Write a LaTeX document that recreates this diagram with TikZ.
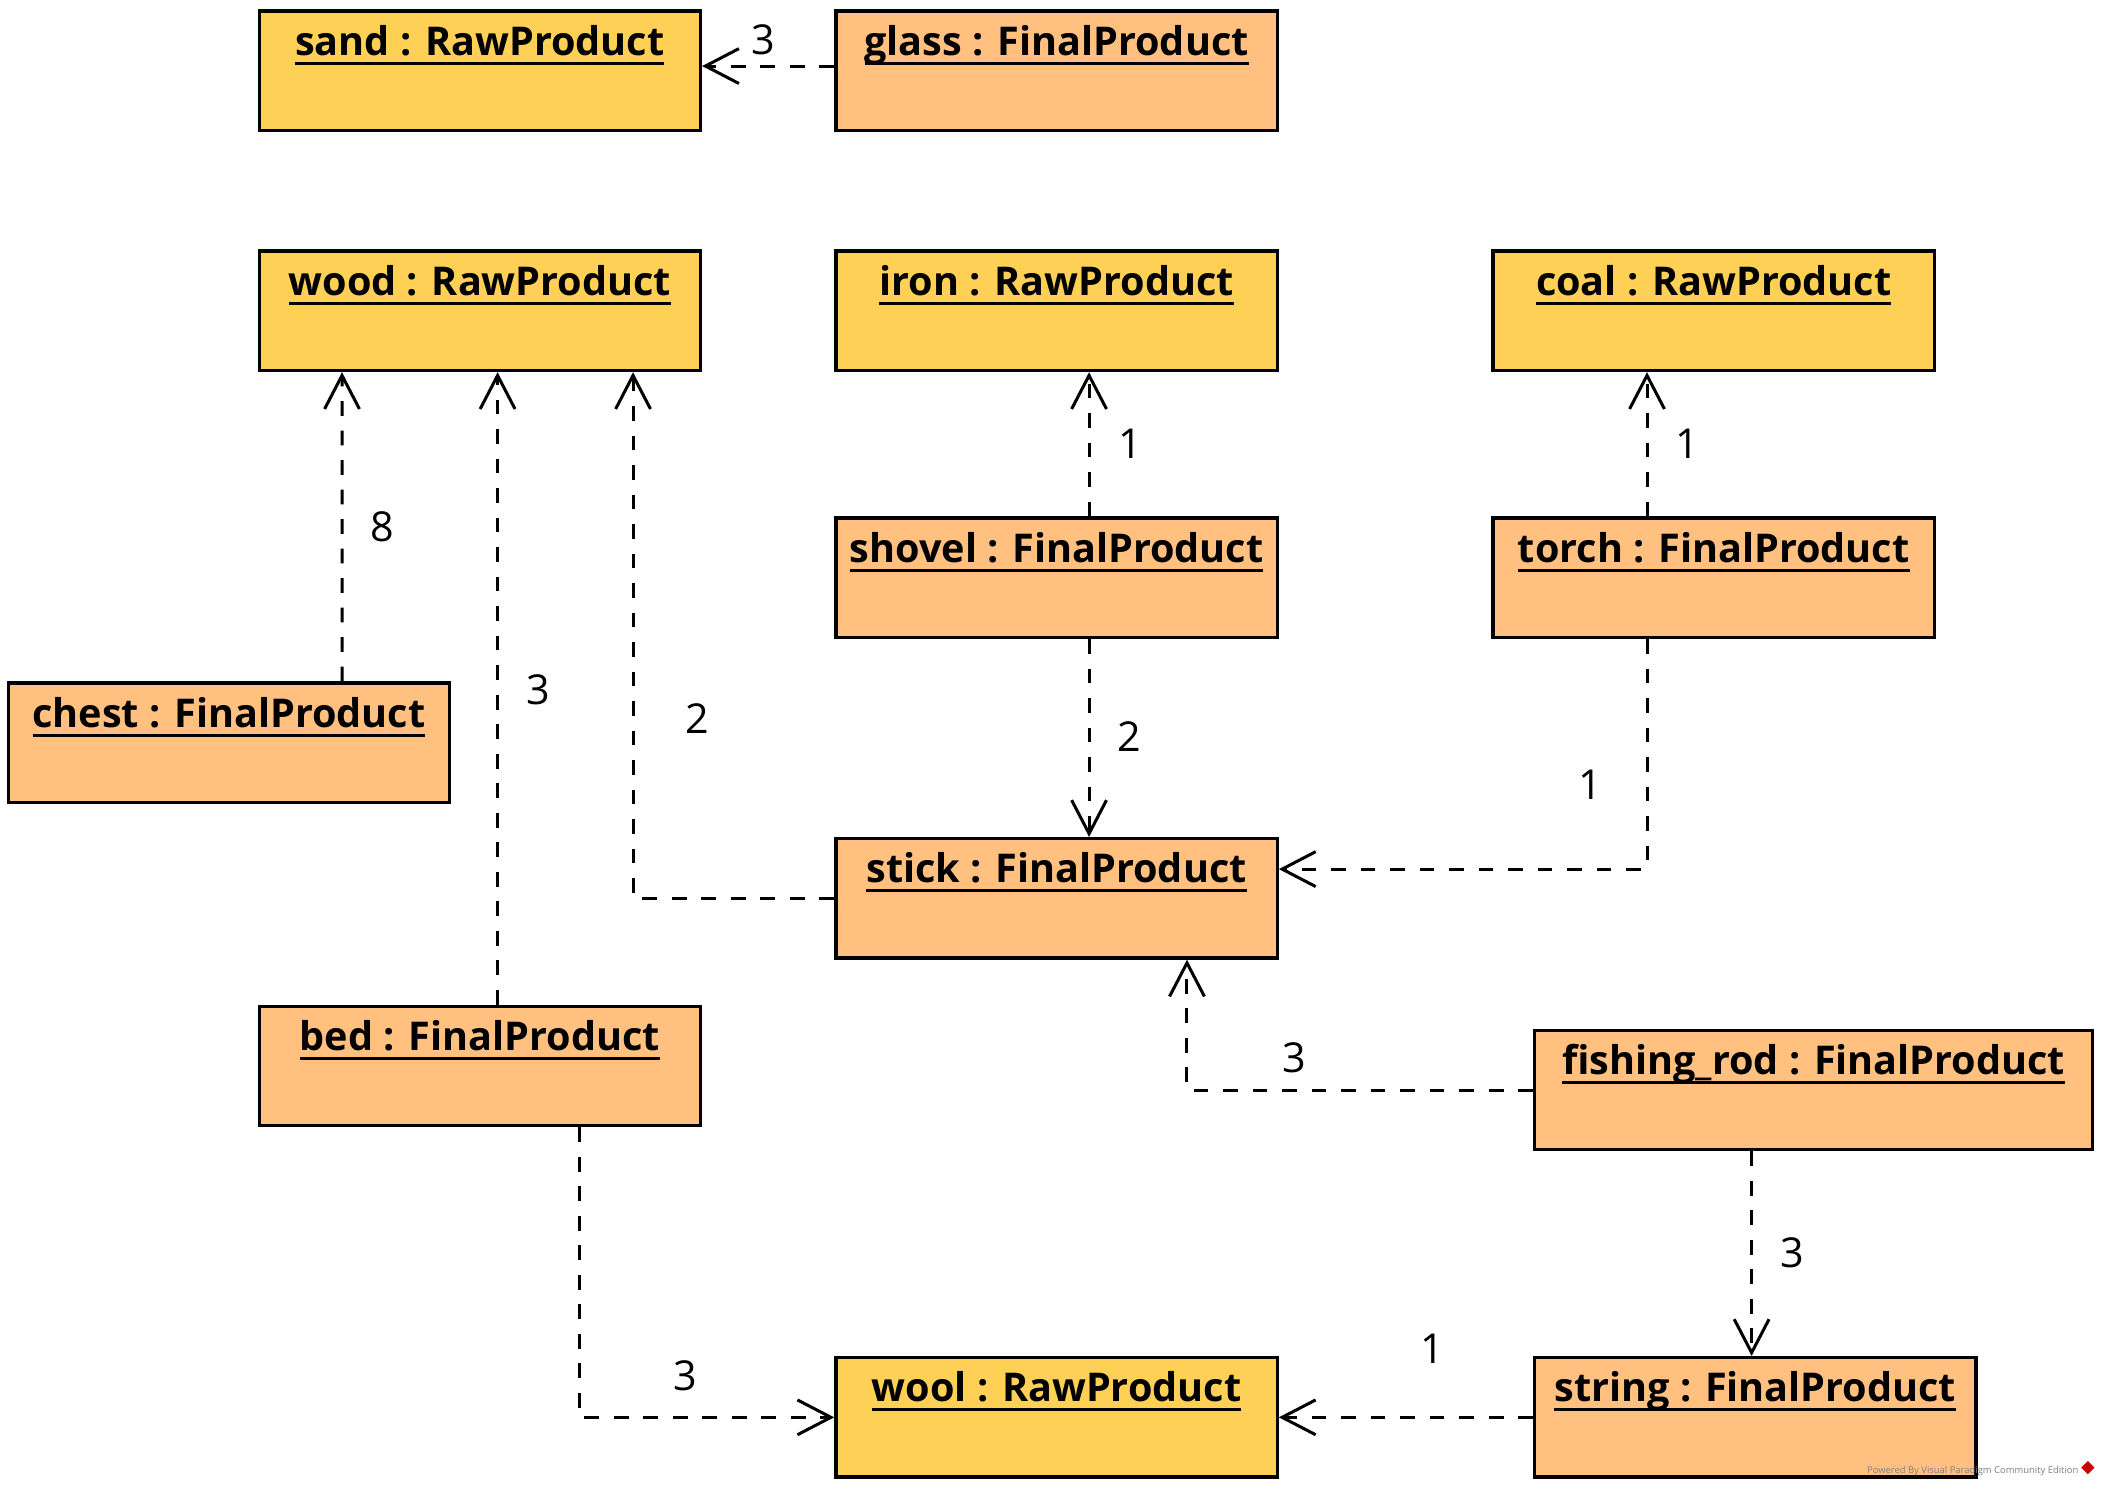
\documentclass[tikz,border=0pt]{standalone}
\usepackage{fontspec}
\setmainfont{Open Sans}
\usepackage{xcolor}
\usepackage{tikz}
\usetikzlibrary{arrows.meta,positioning}
\definecolor{rawfill}{RGB}{254,208,86}
\definecolor{finalfill}{RGB}{255,192,128}
\newcommand{\ulname}[1]{\setbox0=\hbox{#1}\rlap{\rule[-0.14cm]{\wd0}{0.045cm}}\box0}

\begin{document}
\begin{tikzpicture}[
  obj/.style={draw, line width=0.05cm, minimum width=6.58cm, inner xsep=0pt, inner ysep=0.2cm,
    text height=0.46cm, text depth=0.92cm, font=\fontsize{16.8}{19}\selectfont\bfseries},
  raw/.style={obj, fill=rawfill},
  final/.style={obj, fill=finalfill},
  dep/.style={-{Straight Barb[length=0.5cm, width=0.52cm]}, dash pattern=on 0.22cm off 0.22cm, line width=0.045cm},
  num/.style={font=\fontsize{17.5}{20}\selectfont}
]
\useasboundingbox (0,0) rectangle (31.36,-22.19);
\coordinate(O1) at (0,0);

\node[below right=0.14cm and 3.84cm of O1, raw](sand) {\ulname{sand : RawProduct}};
\node[below right=0.14cm and 12.44cm of O1, final](glass) {\ulname{glass : FinalProduct}};

\node[below right=3.72cm and 3.84cm of O1, raw](wood) {\ulname{wood : RawProduct}};
\node[below right=3.72cm and 12.44cm of O1, raw](iron) {\ulname{iron : RawProduct}};
\node[below right=3.72cm and 22.24cm of O1, raw](coal) {\ulname{coal : RawProduct}};

\node[below right=7.70cm and 12.44cm of O1, final](shovel) {\ulname{shovel : FinalProduct}};
\node[below right=7.70cm and 22.24cm of O1, final](torch) {\ulname{torch : FinalProduct}};
\node[below right=10.16cm and 0.10cm of O1, final](chest) {\ulname{chest : FinalProduct}};

\node[below right=12.48cm and 12.44cm of O1, final](stick) {\ulname{stick : FinalProduct}};
\node[below right=14.98cm and 3.84cm of O1, final](bed) {\ulname{bed : FinalProduct}};
\node[below right=15.34cm and 22.86cm of O1, final, minimum width=8.32cm](rod) {\ulname{fishing\_rod : FinalProduct}};

\node[below right=20.22cm and 12.44cm of O1, raw](wool) {\ulname{wool : RawProduct}};
\node[below right=20.22cm and 22.86cm of O1, final](string) {\ulname{string : FinalProduct}};

% dependencies
\draw[dep] ([yshift=0.07cm]glass.west) -- ([yshift=0.07cm]sand.east);
\draw[dep] ([xshift=5cm]chest.north west) -- ([xshift=1.26cm]wood.south west);
\draw[dep] ([xshift=3.58cm]bed.north west) -- ([xshift=3.58cm]wood.south west);
\draw[dep] (stick.west) -| ([xshift=5.6cm]wood.south west);
\draw[dep] ([xshift=3.8cm]shovel.north west) -- ([xshift=3.8cm]iron.south west);
\draw[dep] ([xshift=2.32cm]torch.north west) -- ([xshift=2.32cm]coal.south west);
\draw[dep] ([xshift=3.8cm]shovel.south west) -- ([xshift=3.8cm]stick.north west);
\draw[dep] ([xshift=2.32cm]torch.south west) |- ([yshift=-0.48cm]stick.north east);
\draw[dep] (rod.west) -| ([xshift=5.26cm]stick.south west);
\draw[dep] ([xshift=3.26cm]rod.south west) -- ([xshift=3.26cm]string.north west);
\draw[dep] ([xshift=4.8cm]bed.south west) |- (wool.west);
\draw[dep] (string.west) -- (wool.east);

% multiplicities
\node[num](nglass) at (11.38,-0.60) {3};
\node[num](nchest) at (5.70,-7.86) {8};
\node[num](nbedw) at (8.02,-10.28) {3};
\node[num](nstickw) at (10.40,-10.72) {2};
\node[num](nshoveli) at (16.86,-6.62) {1};
\node[num](ntorchc) at (25.16,-6.62) {1};
\node[num](nshovels) at (16.84,-10.98) {2};
\node[num](ntorchs) at (23.72,-11.70) {1};
\node[num](nrods) at (19.30,-15.78) {3};
\node[num](nrodst) at (26.72,-18.68) {3};
\node[num](nbedwo) at (10.22,-20.52) {3};
\node[num](nstring) at (21.36,-20.12) {1};

\node[anchor=east, inner sep=0pt, text=gray, font=\fontsize{4}{5}\selectfont](wm) at (31.0,-21.94) {Powered By Visual Paradigm Community Edition};
\node[fill=red!80!black, rotate=45, minimum size=0.14cm, inner sep=0pt, right=0.08cm of wm](logo) {};
\end{tikzpicture}
\end{document}
